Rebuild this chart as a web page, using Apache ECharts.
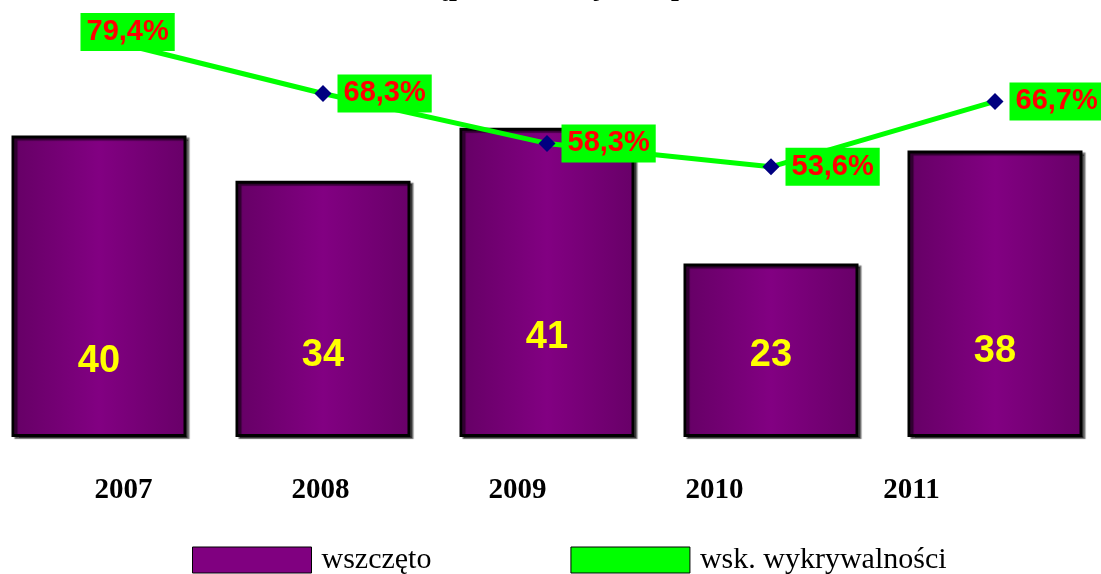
<!DOCTYPE html>
<html lang="pl">
  <head>
    <meta charset="UTF-8" />
    <title>wszczęto / wsk. wykrywalności</title>
    <script src="https://cdn.jsdelivr.net/npm/echarts@6/dist/echarts.min.js"></script>
    <style>
      html, body { margin: 0; padding: 0; background: #fff; }
    </style>
  </head>
  <body>
    <div id="main" style="width: 1101px; height: 574px;"></div>
    <script>
      // dane z wykresu
      var years = ["2007", "2008", "2009", "2010", "2011"];
      var wszczeto = [40, 34, 41, 23, 38];
      var wykrywalnosc = [79.4, 68.3, 58.3, 53.6, 66.7];

      // przesuniecia etykiet (styl)
      var barLabelDist = [56, 62, 80, 62, 66];
      var lineLabelOffset = [[-33, -6], [0, 0], [0, 0], [0, 0], [0, 0]];

      var chart = echarts.init(document.getElementById("main"));

      var barGradient = new echarts.graphic.LinearGradient(0, 0, 1, 0, [
        { offset: 0, color: "#650065" },
        { offset: 0.5, color: "#820082" },
        { offset: 1, color: "#680068" }
      ]);

      var barData = wszczeto.map(function (v, i) {
        return { value: v, label: { distance: barLabelDist[i] } };
      });
      var lineData = wykrywalnosc.map(function (v, i) {
        return { value: v, label: { offset: lineLabelOffset[i] } };
      });

      var option = {
        animation: false,
        title: {
          text: "Przestępstwa rozbójnicze prowadzone",
          left: 357,
          top: -31,
          textStyle: {
            fontFamily: "Liberation Serif",
            fontWeight: "bold",
            fontSize: 28,
            color: "#000"
          }
        },
        legend: {
          left: 187,
          top: 540,
          itemWidth: 119,
          itemHeight: 26,
          itemGap: 139,
          textStyle: {
            fontFamily: "Liberation Serif",
            fontSize: 30,
            color: "#000",
            padding: [0, 0, 0, 5]
          },
          data: [
            { name: "wszczęto", icon: "rect", itemStyle: { color: "#800080", borderColor: "#000", borderWidth: 1 } },
            { name: "wsk. wykrywalności", icon: "rect", itemStyle: { color: "#00ff00", borderColor: "#000", borderWidth: 1 } }
          ]
        },
        grid: [
          { left: -13, width: 1120, top: 60, height: 377, outerBoundsMode: "none" },
          { left: 25, width: 985, top: 475, height: 1, outerBoundsMode: "none" }
        ],
        xAxis: [
          {
            type: "category",
            data: years,
            gridIndex: 0,
            axisLine: { show: false },
            axisTick: { show: false },
            axisLabel: { show: false }
          },
          {
            type: "category",
            data: years,
            gridIndex: 1,
            axisLine: { show: false },
            axisTick: { show: false },
            axisLabel: {
              margin: 0,
              fontFamily: "Liberation Serif",
              fontWeight: "bold",
              fontSize: 29,
              color: "#000"
            }
          }
        ],
        yAxis: [
          { type: "value", min: 0, max: 50, show: false, gridIndex: 0 },
          { type: "value", min: -0.5, max: 75, show: false, gridIndex: 0 },
          { type: "value", show: false, gridIndex: 1 }
        ],
        series: [
          {
            name: "wszczęto",
            type: "bar",
            barWidth: 175,
            data: barData,
            itemStyle: {
              color: barGradient,
              borderColor: "#000",
              borderWidth: 3,
              shadowColor: "rgba(0,0,0,0.55)",
              shadowOffsetX: 3,
              shadowOffsetY: 2,
              shadowBlur: 1
            },
            label: {
              show: true,
              position: "insideBottom",
              color: "#ffff00",
              fontFamily: "Liberation Sans",
              fontWeight: "bold",
              fontSize: 38
            }
          },
          {
            name: "wsk. wykrywalności",
            type: "line",
            yAxisIndex: 1,
            clip: false,
            z: 5,
            data: lineData,
            symbol: "diamond",
            symbolSize: 17,
            itemStyle: { color: "#000080" },
            lineStyle: { color: "#00ff00", width: 5 },
            label: {
              show: true,
              position: "right",
              distance: 6,
              formatter: function (p) {
                return p.value.toFixed(1).replace(".", ",") + "%";
              },
              color: "#ff0000",
              fontFamily: "Liberation Sans",
              fontWeight: "bold",
              fontSize: 29,
              lineHeight: 32,
              backgroundColor: "#00ff00",
              padding: [3, 6, 3, 6]
            }
          }
        ]
      };

      chart.setOption(option);
    </script>
  </body>
</html>
